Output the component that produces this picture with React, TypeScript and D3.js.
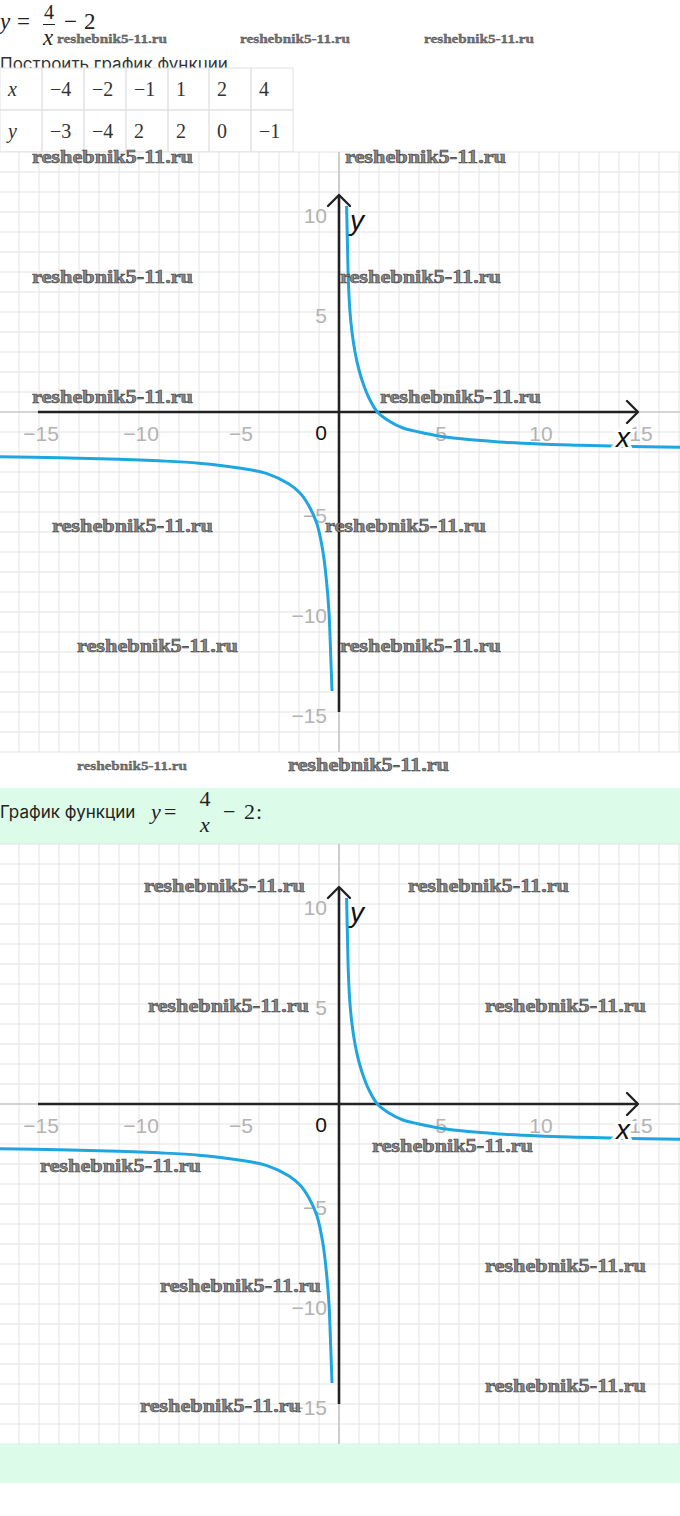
import React from "react";
import * as d3 from "d3";

// ---------- data ----------
const xTicks = [-15, -10, -5, 5, 10, 15];
const yTicks = [10, 5, -5, -10, -15];
const tableXRow = ["x", "−4", "−2", "−1", "1", "2", "4"];
const tableYRow = ["y", "−3", "−4", "2", "2", "0", "−1"];

// curve points (right branch, x > 0)
const rightX = [0.38, 0.42, 0.47, 0.55, 0.65, 0.8, 1, 1.25, 1.5, 1.92, 2.5, 3.2, 4, 5, 6, 8, 10, 12, 14, 17.05];
const rightY = [10.3, 8.5, 6.5, 5, 4, 3, 2.1, 1.3, 0.7, 0, -0.45, -0.8, -1, -1.2, -1.33, -1.5, -1.6, -1.66, -1.71, -1.76];
// left branch, x < 0
const leftX = [-17, -14, -11, -9, -7, -5, -3.6, -2.5, -1.95, -1.5, -1.1, -0.8, -0.62, -0.5, -0.42, -0.35];
const leftY = [-2.24, -2.29, -2.36, -2.44, -2.56, -2.8, -3.08, -3.6, -4.05, -4.7, -5.6, -7, -8.5, -10, -12, -13.95];

const watermarkText = "reshebnik5-11.ru";

// ---------- layout ----------
const W = 680;
const H = 1516;
const CHART_H = 600;
const chart1Top = 152;
const chart2Top = 844;
const colEdges = [0, 42, 84, 126, 168, 209, 251, 293];
const rowEdges = [68, 110, 152];

const wmChart1: [number, number, boolean][] = [
  [32, 163, false], [345, 163, false], [32, 283, false], [340, 283, false],
  [32, 403, false], [380, 403, false], [52, 532, false], [325, 532, false],
  [77, 652, false], [340, 652, false], [77, 770, true], [288, 771, false],
];
const wmChart2: [number, number, boolean][] = [
  [144, 892, false], [408, 892, false], [148, 1012, false], [485, 1012, false],
  [372, 1152, false], [40, 1172, false], [485, 1272, false], [160, 1292, false],
  [485, 1392, false], [140, 1412, false],
];
const wmTop: [number, number, boolean][] = [[57, 43, true], [240, 43, true], [424, 43, true]];

const BLUE = "#1fa6e0";
const MATH = "'Liberation Serif', 'DejaVu Serif', serif";
const SANS = "'Liberation Sans', Arial, sans-serif";
const UI = "Inter, 'Noto Sans', sans-serif";

function Watermark({ x, y, small }: { x: number; y: number; small: boolean }) {
  return (
    <text
      x={x}
      y={y}
      fontFamily={MATH}
      fontWeight="bold"
      fontSize={small ? 13 : 18}
      textLength={small ? 110 : 161}
      lengthAdjust="spacingAndGlyphs"
      fill={small ? "#777" : "#8a8a8a"}
      stroke="#3c3c3c"
      strokeWidth={small ? 0.3 : 0.55}
    >
      {watermarkText}
    </text>
  );
}

function Chart({ top, id }: { top: number; id: string }) {
  const xs = d3.scaleLinear().domain([-16.95, 17.05]).range([0, W]);
  const ys = d3.scaleLinear().domain([13, -17]).range([top, top + CHART_H]);
  const line = d3
    .line<[number, number]>()
    .x((d) => xs(d[0]))
    .y((d) => ys(d[1]))
    .curve(d3.curveCatmullRom.alpha(0.5));
  const rightPts = rightX.map((v, i) => [v, rightY[i]] as [number, number]);
  const leftPts = leftX.map((v, i) => [v, leftY[i]] as [number, number]);
  const gx = d3.range(-16, 18);
  const gy = d3.range(-17, 14);
  const x0 = xs(0);
  const y0 = ys(0);
  const axisL = xs(-15.05);
  const axisR = xs(14.95);
  const axisT = ys(10.85);
  const axisB = ys(-15);
  return (
    <g>
      <defs>
        <clipPath id={id}>
          <rect x={0} y={top} width={W} height={CHART_H} />
        </clipPath>
      </defs>
      <rect x={0} y={top} width={W} height={CHART_H} fill="#fff" />
      {gx.map((g) => (
        <line key={"gx" + g} x1={xs(g)} x2={xs(g)} y1={top} y2={top + CHART_H} stroke="#e3e3e3" strokeWidth={1} />
      ))}
      {gy.map((g) => (
        <line key={"gy" + g} x1={0} x2={W} y1={ys(g)} y2={ys(g)} stroke="#e3e3e3" strokeWidth={1} />
      ))}
      <line x1={x0} x2={x0} y1={top} y2={top + CHART_H} stroke="#b8b8b8" strokeWidth={1.2} />
      <line x1={0} x2={W} y1={y0} y2={y0} stroke="#b8b8b8" strokeWidth={1.2} />
      {/* tick labels */}
      {xTicks.map((t) => (
        <text key={"xt" + t} x={xs(t) + 2} y={y0 + 28.5} textAnchor="middle" fontFamily={SANS} fontSize={21} fill="#b3b3b3">
          {t < 0 ? "−" + Math.abs(t) : t}
        </text>
      ))}
      {yTicks.map((t) => (
        <text key={"yt" + t} x={x0 - 12} y={ys(t) + 10.5} textAnchor="end" fontFamily={SANS} fontSize={21} fill="#b3b3b3">
          {t < 0 ? "−" + Math.abs(t) : t}
        </text>
      ))}
      {/* axes */}
      <line x1={axisL} x2={axisR} y1={y0} y2={y0} stroke="#222" strokeWidth={2.6} />
      <line x1={x0} x2={x0} y1={axisT} y2={axisB} stroke="#222" strokeWidth={2.6} />
      <path
        d={`M${axisR - 11},${y0 - 11} L${axisR},${y0} L${axisR - 11},${y0 + 11}`}
        fill="none"
        stroke="#222"
        strokeWidth={2.4}
        strokeLinecap="round"
        strokeLinejoin="round"
      />
      <path
        d={`M${x0 - 11},${axisT + 11} L${x0},${axisT} L${x0 + 11},${axisT + 11}`}
        fill="none"
        stroke="#222"
        strokeWidth={2.4}
        strokeLinecap="round"
        strokeLinejoin="round"
      />
      {/* curve */}
      <g clipPath={`url(#${id})`}>
        <path d={line(leftPts) || ""} fill="none" stroke={BLUE} strokeWidth={3} />
        <path d={line(rightPts) || ""} fill="none" stroke={BLUE} strokeWidth={3} />
      </g>
      {/* axis names */}
      <text x={321} y={y0 + 28} textAnchor="middle" fontFamily={SANS} fontSize={21} fontWeight={500} fill="#111">
        0
      </text>
      <text
        x={xs(14.2)}
        y={y0 + 35}
        textAnchor="middle"
        fontFamily={SANS}
        fontStyle="italic"
        fontSize={28}
        fill="#111"
        stroke="#fff"
        strokeWidth={6}
        paintOrder="stroke"
      >
        x
      </text>
      <text x={x0 + 11} y={ys(10) + 17.5} fontFamily={SANS} fontStyle="italic" fontSize={28} fill="#111">
        y
      </text>
    </g>
  );
}

export default function App() {
  return (
    <div style={{ position: "absolute", left: 0, top: 0, width: W, height: H, background: "#fff" }}>
      <svg width={W} height={H} viewBox={`0 0 ${W} ${H}`} style={{ display: "block" }}>
        <rect x={0} y={0} width={W} height={H} fill="#fff" />
        {/* top formula */}
        <g fontFamily={MATH} fill="#222" fontSize={23}>
          <text x={0} y={29} fontStyle="italic">y</text>
          <text x={17} y={29}>=</text>
          <text x={49} y={19} textAnchor="middle" fontSize={20}>4</text>
          <line x1={43} x2={55} y1={24.5} y2={24.5} stroke="#222" strokeWidth={1} />
          <text x={48} y={45} textAnchor="middle" fontStyle="italic">x</text>
          <text x={64} y={29}>−</text>
          <text x={84} y={29}>2</text>
        </g>
        <text x={0} y={70} fontFamily={UI} fontSize={17} fill="#333">
          Построить график функции
        </text>
        {/* table */}
        <rect x={0} y={rowEdges[0]} width={colEdges[colEdges.length - 1]} height={rowEdges[2] - rowEdges[0]} fill="#fff" />
        {[tableXRow, tableYRow].map((row, r) =>
          row.map((cell, c) => (
            <g key={`c${r}-${c}`}>
              <rect
                x={colEdges[c]}
                y={rowEdges[r]}
                width={colEdges[c + 1] - colEdges[c]}
                height={rowEdges[r + 1] - rowEdges[r]}
                fill="none"
                stroke="#e2e2e2"
                strokeWidth={1}
              />
              <text
                x={colEdges[c] + 8}
                y={(rowEdges[r] + rowEdges[r + 1]) / 2 + 7}
                fontFamily={MATH}
                fontSize={20}
                fontStyle={c === 0 ? "italic" : "normal"}
                fill="#333"
              >
                {cell}
              </text>
            </g>
          ))
        )}
        <Chart top={chart1Top} id="clip1" />
        {/* green header band */}
        <rect x={0} y={788} width={W} height={56} fill="#ddfbe9" />
        <text x={0} y={818} fontFamily={UI} fontSize={17} fill="#222">
          График функции
        </text>
        <g fontFamily={MATH} fill="#222" fontSize={22}>
          <text x={151} y={819} fontStyle="italic">y</text>
          <text x={164} y={819}>=</text>
          <text x={205} y={806} textAnchor="middle">4</text>
          <text x={205} y={832} textAnchor="middle" fontStyle="italic">x</text>
          <text x={223} y={819}>−</text>
          <text x={244} y={819}>2</text>
          <text x={256} y={819}>:</text>
        </g>
        <Chart top={chart2Top} id="clip2" />
        <rect x={0} y={1444} width={W} height={39} fill="#ddfbe9" />
        {/* watermarks */}
        {[...wmTop, ...wmChart1, ...wmChart2].map(([x, y, s], i) => (
          <Watermark key={"wm" + i} x={x} y={y} small={s} />
        ))}
      </svg>
    </div>
  );
}
